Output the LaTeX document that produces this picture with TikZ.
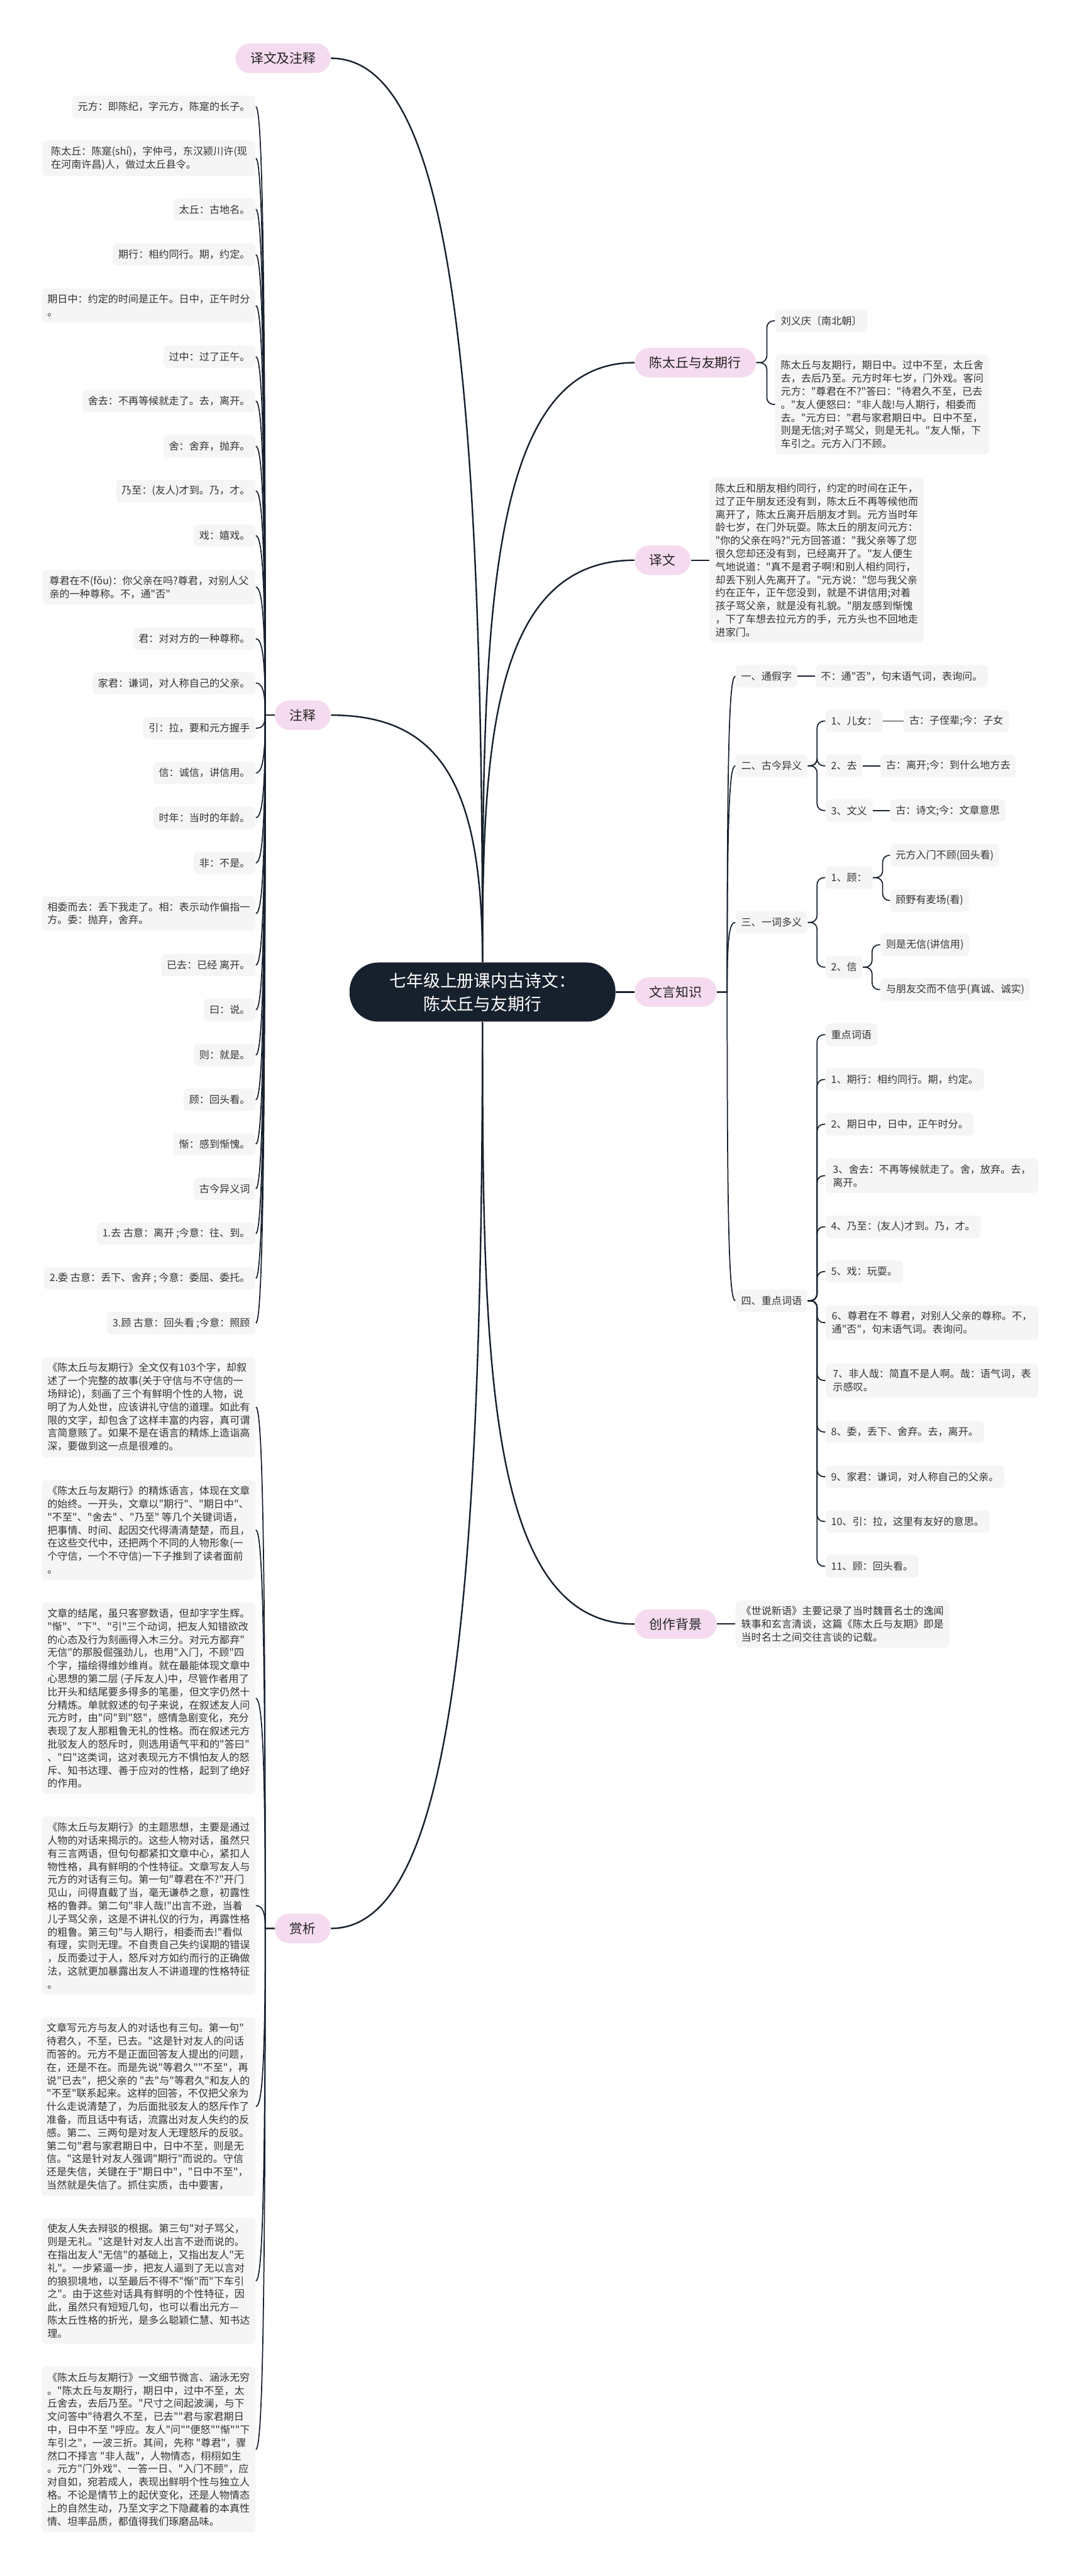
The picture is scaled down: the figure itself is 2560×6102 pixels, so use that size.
\documentclass[tikz,border=0pt]{standalone}
\usepackage{fontspec}
\newfontfamily\cjk{Noto Sans CJK SC}
\usetikzlibrary{calc}
\definecolor{linec}{HTML}{17212E}
\definecolor{rootc}{HTML}{17212E}
\definecolor{pillc}{HTML}{F5DBEF}
\definecolor{pilltext}{HTML}{222222}
\definecolor{leafc}{HTML}{F5F5F5}
\definecolor{leaftext}{HTML}{333333}
\begin{document}
\begin{tikzpicture}[x=0.25pt, y=0.25pt,
    root/.style={fill=rootc, text=white, rounded corners=17pt, minimum width=157.5pt, minimum height=35pt, align=center, font=\cjk\fontsize{10}{13.75}\selectfont},
    pill/.style={fill=pillc, text=pilltext, rounded corners=8.5pt, minimum height=17.5pt, inner xsep=8.75pt, font=\cjk\fontsize{7.75}{9}\selectfont},
    leaf/.style={fill=leafc, text=leaftext, rounded corners=2.5pt, inner xsep=3.25pt, inner ysep=3.5pt, minimum height=13.25pt, align=left, font=\cjk\fontsize{6}{7.75}\selectfont},
    para/.style={leaf, minimum width=126pt},
    trunk/.style={draw=linec, line width=0.9pt},
    link/.style={draw=linec, line width=0.65pt},
    bracket/.style={link, rounded corners=4pt},
    lhook/.style={to path={.. controls ($(\tikztostart)!0.8!(\tikztostart |- \tikztotarget)$) and ($(\tikztotarget)+(14,0)$) .. (\tikztotarget)}},
    rhook/.style={to path={.. controls ($(\tikztostart)!0.8!(\tikztostart |- \tikztotarget)$) and ($(\tikztotarget)+(-14,0)$) .. (\tikztotarget)}}]
    \fill[white] (0,0) rectangle (2560,-6102);
    \useasboundingbox (0,0) rectangle (2560,-6102);

    % centre and main branches
    \node[root] (root) at (1143,-2350) {七年级上册课内古诗文：\\陈太丘与友期行};
    \node[pill, anchor=east] (yzz) at (784,-138) {译文及注释};
    \node[pill, anchor=east] (zs) at (784,-1694) {注释};
    \node[pill, anchor=east] (sx) at (784,-4568) {赏析};
    \node[pill, anchor=west] (cq) at (1503,-859) {陈太丘与友期行};
    \node[pill, anchor=west] (yw) at (1503,-1327) {译文};
    \node[pill, anchor=west] (wy) at (1503,-2350) {文言知识};
    \node[pill, anchor=west] (bj) at (1503,-3847) {创作背景};

    \draw[trunk] (root.north) .. controls +(0,1480) and +(270,0) .. (yzz.east);
    \draw[trunk] (root.north) .. controls +(0,420) and +(260,0) .. (zs.east);
    \draw[trunk] (root.south) .. controls +(0,-1480) and +(270,0) .. (sx.east);
    \draw[trunk] (root.north) .. controls +(0,800) and +(-350,0) .. (cq.west);
    \draw[trunk] (root.north) .. controls +(0,500) and +(-340,0) .. (yw.west);
    \draw[trunk] (root.east) -- (wy.west);
    \draw[trunk] (root.south) .. controls +(0,-800) and +(-350,0) .. (bj.west);

    % 注释
    \node[leaf, anchor=east] (zs1) at (606,-253) {元方：即陈纪，字元方，陈寔的长子。};
    \node[para, anchor=east] (zs2) at (606,-375) {陈太丘：陈寔(shí)，字仲弓，东汉颍川许(现\\在河南许昌)人，做过太丘县令。};
    \node[leaf, anchor=east] (zs3) at (606,-496) {太丘：古地名。};
    \node[leaf, anchor=east] (zs4) at (606,-603) {期行：相约同行。期，约定。};
    \node[para, anchor=east] (zs5) at (606,-724) {期日中：约定的时间是正午。日中，正午时分\\。};
    \node[leaf, anchor=east] (zs6) at (606,-845) {过中：过了正午。};
    \node[leaf, anchor=east] (zs7) at (606,-950) {舍去：不再等候就走了。去，离开。};
    \node[leaf, anchor=east] (zs8) at (606,-1057) {舍：舍弃，抛弃。};
    \node[leaf, anchor=east] (zs9) at (606,-1163) {乃至：(友人)才到。乃，才。};
    \node[leaf, anchor=east] (zs10) at (606,-1269) {戏：嬉戏。};
    \node[para, anchor=east] (zs11) at (606,-1391) {尊君在不(fǒu)：你父亲在吗?尊君，对别人父\\亲的一种尊称。不，通"否"};
    \node[leaf, anchor=east] (zs12) at (606,-1513) {君：对对方的一种尊称。};
    \node[leaf, anchor=east] (zs13) at (606,-1618) {家君：谦词，对人称自己的父亲。};
    \node[leaf, anchor=east] (zs14) at (606,-1725) {引：拉，要和元方握手};
    \node[leaf, anchor=east] (zs15) at (606,-1831) {信：诚信，讲信用。};
    \node[leaf, anchor=east] (zs16) at (606,-1937) {时年：当时的年龄。};
    \node[leaf, anchor=east] (zs17) at (606,-2044) {非：不是。};
    \node[para, anchor=east] (zs18) at (606,-2164) {相委而去：丢下我走了。相：表示动作偏指一\\方。委：抛弃，舍弃。};
    \node[leaf, anchor=east] (zs19) at (606,-2286) {已去：已经 离开。};
    \node[leaf, anchor=east] (zs20) at (606,-2392) {曰：说。};
    \node[leaf, anchor=east] (zs21) at (606,-2499) {则：就是。};
    \node[leaf, anchor=east] (zs22) at (606,-2605) {顾：回头看。};
    \node[leaf, anchor=east] (zs23) at (606,-2710) {惭：感到惭愧。};
    \node[leaf, anchor=east] (zs24) at (606,-2816) {古今异义词};
    \node[leaf, anchor=east] (zs25) at (606,-2922) {1.去 古意：离开 ;今意：往、到。};
    \node[leaf, anchor=east] (zs26) at (606,-3028) {2.委 古意：丢下、舍弃 ; 今意：委屈、委托。};
    \node[leaf, anchor=east] (zs27) at (606,-3134) {3.顾 古意：回头看 ;今意：照顾};

    \coordinate (zsj) at ($(zs.west)+(-22,0)$);
    \draw[link] (zs.west) -- (zsj) to[lhook] (zs1.east);
    \draw[link] (zs.west) -- (zsj) to[lhook] (zs2.east);
    \draw[link] (zs.west) -- (zsj) to[lhook] (zs3.east);
    \draw[link] (zs.west) -- (zsj) to[lhook] (zs4.east);
    \draw[link] (zs.west) -- (zsj) to[lhook] (zs5.east);
    \draw[link] (zs.west) -- (zsj) to[lhook] (zs6.east);
    \draw[link] (zs.west) -- (zsj) to[lhook] (zs7.east);
    \draw[link] (zs.west) -- (zsj) to[lhook] (zs8.east);
    \draw[link] (zs.west) -- (zsj) to[lhook] (zs9.east);
    \draw[link] (zs.west) -- (zsj) to[lhook] (zs10.east);
    \draw[link] (zs.west) -- (zsj) to[lhook] (zs11.east);
    \draw[link] (zs.west) -- (zsj) to[lhook] (zs12.east);
    \draw[link] (zs.west) -- (zsj) to[lhook] (zs13.east);
    \draw[link] (zs.west) -- (zsj) to[lhook] (zs14.east);
    \draw[link] (zs.west) -- (zsj) to[lhook] (zs15.east);
    \draw[link] (zs.west) -- (zsj) to[lhook] (zs16.east);
    \draw[link] (zs.west) -- (zsj) to[lhook] (zs17.east);
    \draw[link] (zs.west) -- (zsj) to[lhook] (zs18.east);
    \draw[link] (zs.west) -- (zsj) to[lhook] (zs19.east);
    \draw[link] (zs.west) -- (zsj) to[lhook] (zs20.east);
    \draw[link] (zs.west) -- (zsj) to[lhook] (zs21.east);
    \draw[link] (zs.west) -- (zsj) to[lhook] (zs22.east);
    \draw[link] (zs.west) -- (zsj) to[lhook] (zs23.east);
    \draw[link] (zs.west) -- (zsj) to[lhook] (zs24.east);
    \draw[link] (zs.west) -- (zsj) to[lhook] (zs25.east);
    \draw[link] (zs.west) -- (zsj) to[lhook] (zs26.east);
    \draw[link] (zs.west) -- (zsj) to[lhook] (zs27.east);

    % 赏析
    \node[para, anchor=east] (sx1) at (606,-3333) {《陈太丘与友期行》全文仅有103个字，却叙\\述了一个完整的故事(关于守信与不守信的一\\场辩论)，刻画了三个有鲜明个性的人物，说\\明了为人处世，应该讲礼守信的道理。如此有\\限的文字，却包含了这样丰富的内容，真可谓\\言简意赅了。如果不是在语言的精炼上造诣高\\深，要做到这一点是很难的。};
    \node[para, anchor=east] (sx2) at (606,-3624) {《陈太丘与友期行》的精炼语言，体现在文章\\的始终。一开头，文章以"期行"、"期日中"、\\"不至"、"舍去" 、"乃至" 等几个关键词语，\\把事情、时间、起因交代得清清楚楚，而且，\\在这些交代中，还把两个不同的人物形象(一\\个守信，一个不守信)一下子推到了读者面前\\。};
    \node[para, anchor=east] (sx3) at (606,-4023) {文章的结尾，虽只客寥数语，但却字字生辉。\\"惭"、"下"、"引"三个动词，把友人知错欲改\\的心态及行为刻画得入木三分。对元方鄙弃"\\无信"的那股倔强劲儿，也用"入门，不顾"四\\个字，描绘得维妙维肖。就在最能体现文章中\\心思想的第二层 (子斥友人)中，尽管作者用了\\比开头和结尾要多得多的笔墨，但文字仍然十\\分精炼。单就叙述的句子来说，在叙述友人问\\元方时，由"问"到"怒"，感情急剧变化，充分\\表现了友人那粗鲁无礼的性格。而在叙述元方\\批驳友人的怒斥时，则选用语气平和的"答曰"\\、"曰"这类词，这对表现元方不惧怕友人的怒\\斥、知书达理、善于应对的性格，起到了绝好\\的作用。};
    \node[para, anchor=east] (sx4) at (606,-4514) {《陈太丘与友期行》的主题思想，主要是通过\\人物的对话来揭示的。这些人物对话，虽然只\\有三言两语，但句句都紧扣文章中心，紧扣人\\物性格，具有鲜明的个性特征。文章写友人与\\元方的对话有三句。第一句"尊君在不?"开门\\见山，问得直截了当，毫无谦恭之意，初露性\\格的鲁莽。第二句"非人哉!"出言不逊，当着\\儿子骂父亲，这是不讲礼仪的行为，再露性格\\的粗鲁。第三句"与人期行，相委而去!"看似\\有理，实则无理。不自责自己失约误期的错误\\，反而委过于人，怒斥对方如约而行的正确做\\法，这就更加暴露出友人不讲道理的性格特征\\。};
    \node[para, anchor=east] (sx5) at (606,-4990) {文章写元方与友人的对话也有三句。第一句"\\待君久，不至，已去。"这是针对友人的问话\\而答的。元方不是正面回答友人提出的问题，\\在，还是不在。而是先说"等君久""不至"，再\\说"已去"，把父亲的 "去"与"等君久"和友人的\\"不至"联系起来。这样的回答，不仅把父亲为\\什么走说清楚了，为后面批驳友人的怒斥作了\\准备，而且话中有话，流露出对友人失约的反\\感。第二、三两句是对友人无理怒斥的反驳。\\第二句"君与家君期日中，日中不至，则是无\\信。"这是针对友人强调"期行"而说的。守信\\还是失信，关键在于"期日中"，"日中不至"，\\当然就是失信了。抓住实质，击中要害，};
    \node[para, anchor=east] (sx6) at (606,-5403) {使友人失去辩驳的根据。第三句"对子骂父，\\则是无礼。"这是针对友人出言不逊而说的。\\在指出友人"无信"的基础上，又指出友人"无\\礼"。一步紧逼一步，把友人逼到了无以言对\\的狼狈境地，以至最后不得不"惭"而"下车引\\之"。由于这些对话具有鲜明的个性特征，因\\此，虽然只有短短几句，也可以看出元方—\\陈太丘性格的折光，是多么聪颖仁慧、知书达\\理。};
    \node[para, anchor=east] (sx7) at (606,-5802) {《陈太丘与友期行》一文细节微言、涵泳无穷\\。"陈太丘与友期行，期日中，过中不至，太\\丘舍去，去后乃至。"尺寸之间起波澜，与下\\文问答中"待君久不至，已去""君与家君期日\\中，日中不至 "呼应。友人"问""便怒""惭""下\\车引之"，一波三折。其间，先称 "尊君"，骤\\然口不择言 "非人哉"，人物情态，栩栩如生\\。元方"门外戏"、一答一日、"入门不顾"，应\\对自如，宛若成人，表现出鲜明个性与独立人\\格。不论是情节上的起伏变化，还是人物情态\\上的自然生动，乃至文字之下隐藏着的本真性\\情、坦率品质，都值得我们琢磨品味。};

    \coordinate (sxj) at ($(sx.west)+(-22,0)$);
    \draw[link] (sx.west) -- (sxj) to[lhook] (sx1.east);
    \draw[link] (sx.west) -- (sxj) to[lhook] (sx2.east);
    \draw[link] (sx.west) -- (sxj) to[lhook] (sx3.east);
    \draw[link] (sx.west) -- (sxj) to[lhook] (sx4.east);
    \draw[link] (sx.west) -- (sxj) to[lhook] (sx5.east);
    \draw[link] (sx.west) -- (sxj) to[lhook] (sx6.east);
    \draw[link] (sx.west) -- (sxj) to[lhook] (sx7.east);

    % 陈太丘与友期行, 译文
    \node[leaf, anchor=west] (cq1) at (1836,-760) {刘义庆〔南北朝〕};
    \node[para, anchor=west] (cq2) at (1836,-958) {陈太丘与友期行，期日中。过中不至，太丘舍\\去，去后乃至。元方时年七岁，门外戏。客问\\元方："尊君在不?"答曰："待君久不至，已去\\。"友人便怒曰："非人哉!与人期行，相委而\\去。"元方曰："君与家君期日中。日中不至，\\则是无信;对子骂父，则是无礼。"友人惭，下\\车引之。元方入门不顾。};
    \node[para, anchor=west] (yw1) at (1681,-1327) {陈太丘和朋友相约同行，约定的时间在正午，\\过了正午朋友还没有到，陈太丘不再等候他而\\离开了，陈太丘离开后朋友才到。元方当时年\\龄七岁，在门外玩耍。陈太丘的朋友问元方：\\"你的父亲在吗?"元方回答道："我父亲等了您\\很久您却还没有到，已经离开了。"友人便生\\气地说道："真不是君子啊!和别人相约同行，\\却丢下别人先离开了。"元方说："您与我父亲\\约在正午，正午您没到，就是不讲信用;对着\\孩子骂父亲，就是没有礼貌。"朋友感到惭愧\\，下了车想去拉元方的手，元方头也不回地走\\进家门。};

    \draw[bracket] (cq.east) -- ++(25,0) |- (cq1.west);
    \draw[bracket] (cq.east) -- ++(25,0) |- (cq2.west);
    \draw[link] (yw.east) -- (yw1.west);

    % 文言知识
    \node[leaf, anchor=west] (wy1) at (1742,-1602) {一、通假字};
    \node[leaf, anchor=west] (wy1a) at (1931,-1602) {不：通"否"，句末语气词，表询问。};
    \node[leaf, anchor=west] (wy2) at (1742,-1814) {二、古今异义};
    \node[leaf, anchor=west] (wy21) at (1955,-1708) {1、儿女：};
    \node[leaf, anchor=west] (wy21a) at (2140,-1708) {古：子侄辈;今：子女};
    \node[leaf, anchor=west] (wy22) at (1955,-1814) {2、去};
    \node[leaf, anchor=west] (wy22a) at (2085,-1814) {古：离开;今：到什么地方去};
    \node[leaf, anchor=west] (wy23) at (1955,-1920) {3、文义};
    \node[leaf, anchor=west] (wy23a) at (2108,-1920) {古：诗文;今：文章意思};
    \node[leaf, anchor=west] (wy3) at (1742,-2185) {三、一词多义};
    \node[leaf, anchor=west] (wy31) at (1955,-2079) {1、顾：};
    \node[leaf, anchor=west] (wy31a) at (2108,-2026) {元方入门不顾(回头看)};
    \node[leaf, anchor=west] (wy31b) at (2108,-2133) {顾野有麦场(看)};
    \node[leaf, anchor=west] (wy32) at (1955,-2291) {2、信};
    \node[leaf, anchor=west] (wy32a) at (2085,-2238) {则是无信(讲信用)};
    \node[leaf, anchor=west] (wy32b) at (2085,-2344) {与朋友交而不信乎(真诚、诚实)};
    \node[leaf, anchor=west] (wy4) at (1742,-3081) {四、重点词语};
    \node[leaf, anchor=west] (wy40) at (1955,-2451) {重点词语};
    \node[leaf, anchor=west] (wy41) at (1955,-2557) {1、期行：相约同行。期，约定。};
    \node[leaf, anchor=west] (wy42) at (1955,-2663) {2、期日中，日中，正午时分。};
    \node[para, anchor=west] (wy43) at (1955,-2785) {3、舍去：不再等候就走了。舍，放弃。去，\\离开。};
    \node[leaf, anchor=west] (wy44) at (1955,-2906) {4、乃至：(友人)才到。乃，才。};
    \node[leaf, anchor=west] (wy45) at (1955,-3012) {5、戏：玩耍。};
    \node[para, anchor=west] (wy46) at (1955,-3133) {6、尊君在不 尊君，对别人父亲的尊称。不，\\通"否"，句末语气词。表询问。};
    \node[para, anchor=west] (wy47) at (1955,-3270) {7、非人哉：简直不是人啊。哉：语气词，表\\示感叹。};
    \node[leaf, anchor=west] (wy48) at (1955,-3392) {8、委，丢下、舍弃。去，离开。};
    \node[leaf, anchor=west] (wy49) at (1955,-3498) {9、家君：谦词，对人称自己的父亲。};
    \node[leaf, anchor=west] (wy410) at (1955,-3604) {10、引：拉，这里有友好的意思。};
    \node[leaf, anchor=west] (wy411) at (1955,-3710) {11、顾：回头看。};

    \coordinate (wyj) at ($(wy.east)+(24,0)$);
    \draw[link] (wy.east) -- (wyj) to[rhook] (wy1.west);
    \draw[link] (wy.east) -- (wyj) to[rhook] (wy2.west);
    \draw[link] (wy.east) -- (wyj) to[rhook] (wy3.west);
    \draw[link] (wy.east) -- (wyj) to[rhook] (wy4.west);
    \draw[link] (wy1.east) -- (wy1a.west);
    \draw[bracket] (wy2.east) -- ++(22,0) |- (wy21.west);
    \draw[bracket] (wy2.east) -- ++(22,0) |- (wy22.west);
    \draw[bracket] (wy2.east) -- ++(22,0) |- (wy23.west);
    \draw[link] (wy21.east) -- (wy21a.west);
    \draw[link] (wy22.east) -- (wy22a.west);
    \draw[link] (wy23.east) -- (wy23a.west);
    \draw[bracket] (wy3.east) -- ++(22,0) |- (wy31.west);
    \draw[bracket] (wy3.east) -- ++(22,0) |- (wy32.west);
    \draw[bracket] (wy31.east) -- ++(23,0) |- (wy31a.west);
    \draw[bracket] (wy31.east) -- ++(23,0) |- (wy31b.west);
    \draw[bracket] (wy32.east) -- ++(22,0) |- (wy32a.west);
    \draw[bracket] (wy32.east) -- ++(22,0) |- (wy32b.west);
    \draw[bracket] (wy4.east) -- ++(22,0) |- (wy40.west);
    \draw[bracket] (wy4.east) -- ++(22,0) |- (wy41.west);
    \draw[bracket] (wy4.east) -- ++(22,0) |- (wy42.west);
    \draw[bracket] (wy4.east) -- ++(22,0) |- (wy43.west);
    \draw[bracket] (wy4.east) -- ++(22,0) |- (wy44.west);
    \draw[bracket] (wy4.east) -- ++(22,0) |- (wy45.west);
    \draw[bracket] (wy4.east) -- ++(22,0) |- (wy46.west);
    \draw[bracket] (wy4.east) -- ++(22,0) |- (wy47.west);
    \draw[bracket] (wy4.east) -- ++(22,0) |- (wy48.west);
    \draw[bracket] (wy4.east) -- ++(22,0) |- (wy49.west);
    \draw[bracket] (wy4.east) -- ++(22,0) |- (wy410.west);
    \draw[bracket] (wy4.east) -- ++(22,0) |- (wy411.west);

    % 创作背景
    \node[para, anchor=west] (bj1) at (1742,-3847) {《世说新语》主要记录了当时魏晋名士的逸闻\\轶事和玄言清谈，这篇《陈太丘与友期》即是\\当时名士之间交往言谈的记载。};
    \draw[link] (bj.east) -- (bj1.west);
\end{tikzpicture}
\end{document}
